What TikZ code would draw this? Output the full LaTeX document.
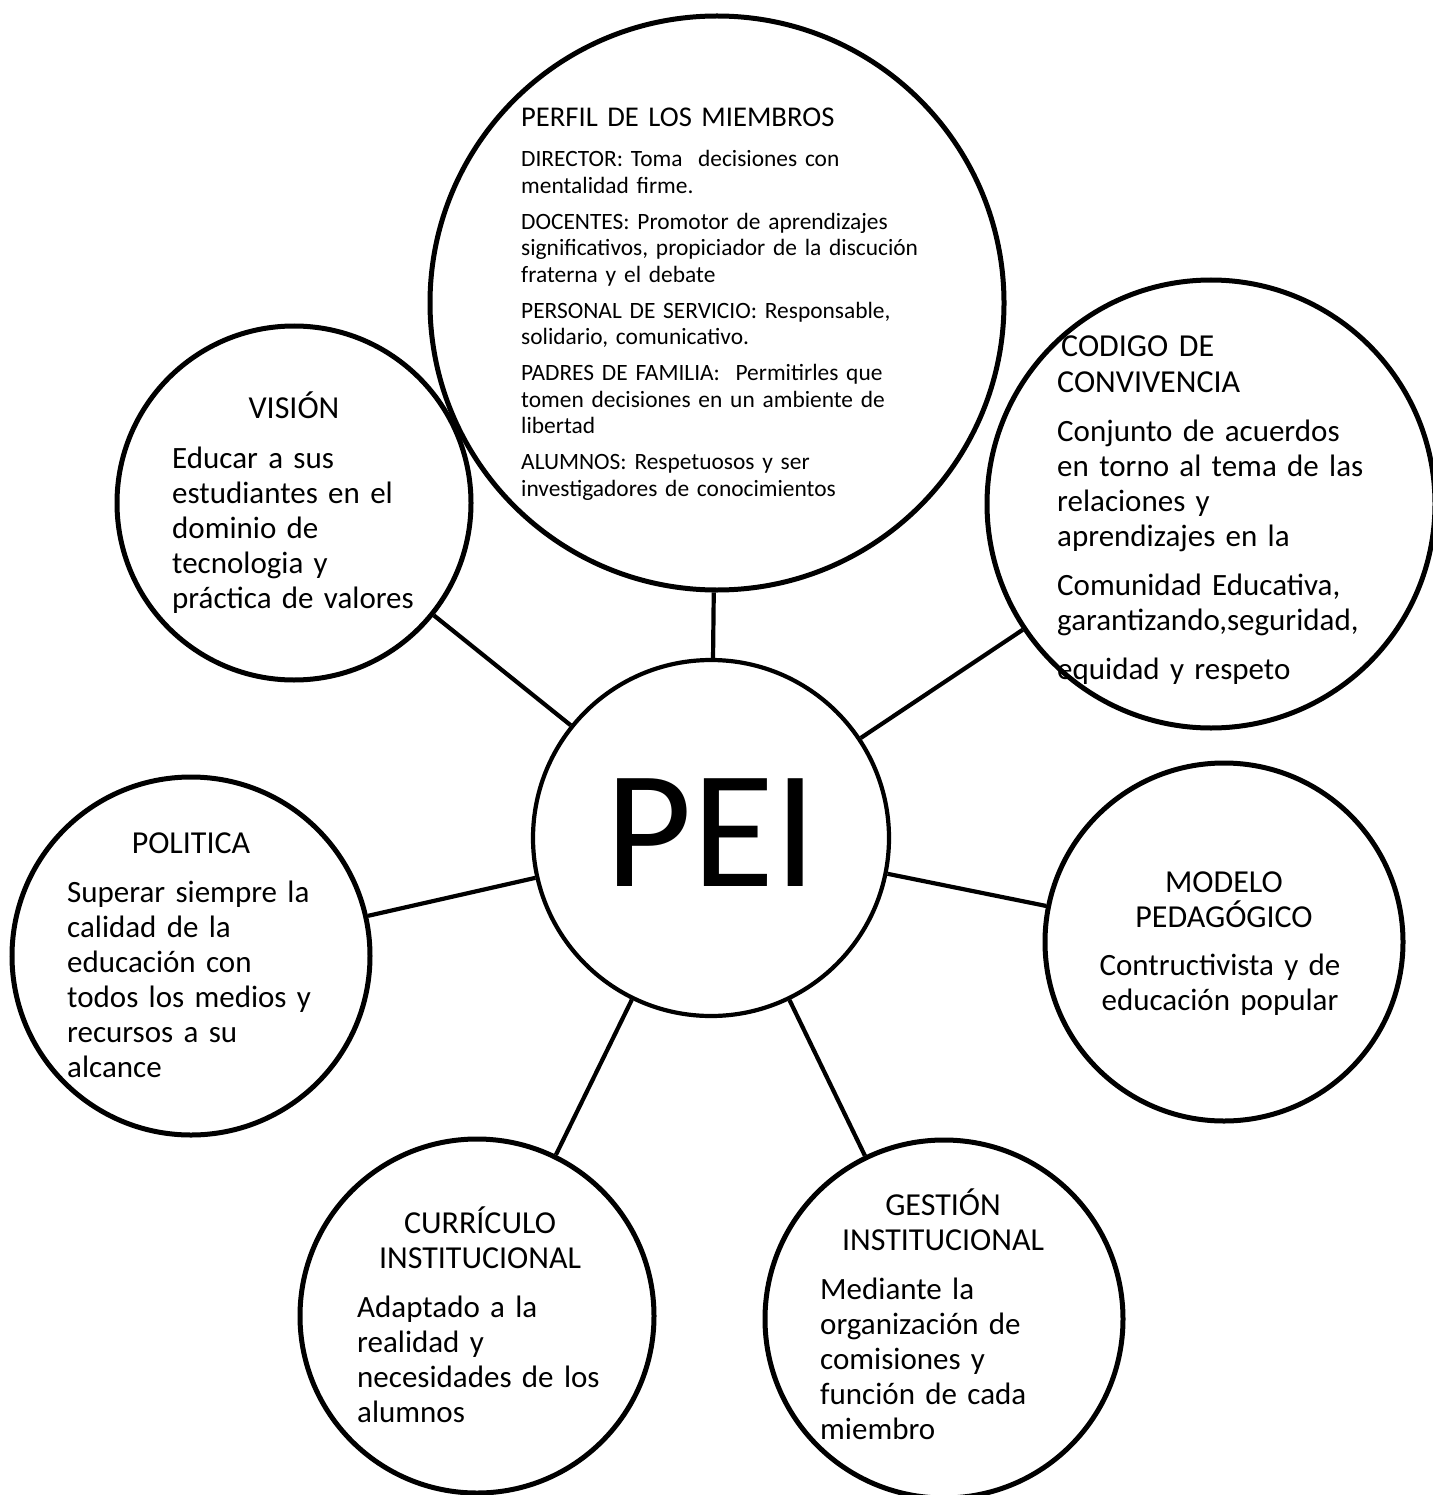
\documentclass[tikz,border=0pt]{standalone}
\usepackage{fontspec}
\setmainfont{Carlito}
\begin{document}
\begin{tikzpicture}[x=1pt,y=-1pt,
  outer/.style={circle,draw=black,line width=5pt,inner sep=0pt,minimum size=#1},
  hub/.style={circle,draw=black,line width=4.2pt,inner sep=0pt,minimum size=356pt},
  link/.style={draw=black,line width=4.2pt},
  bodyL/.style={anchor=base west,inner sep=0pt,text width=460pt,align=left,font=\fontsize{31}{35}\selectfont},
  ttlC/.style={anchor=base,inner sep=0pt,text width=400pt,align=center,font=\fontsize{32}{35}\selectfont},
  bodyC/.style={anchor=base,inner sep=0pt,text width=400pt,align=center,font=\fontsize{31}{35}\selectfont},
  smallL/.style={anchor=base west,inner sep=0pt,text width=460pt,align=left,font=\fontsize{23.4}{26.5}\selectfont},
  perfilttl/.style={anchor=base west,inner sep=0pt,text width=460pt,align=left,font=\fontsize{28.6}{34}\selectfont}
]
\useasboundingbox (0,0) rectangle (1432,1495);
\fill[white] (0,0) rectangle (1432,1495);

% circles
\node[hub] (pei) at (711,838) {};
\node[outer=574pt] (perfil) at (717,303) {};
\node[outer=354pt] (vision) at (294,503) {};
\node[outer=448pt] (codigo) at (1211,504) {};
\node[outer=358pt] (politica) at (191,956) {};
\node[outer=358pt] (modelo) at (1224,942) {};
\node[outer=354pt] (curriculo) at (477,1316) {};
\node[outer=358pt] (gestion) at (944,1319) {};

% connectors
\draw[link] (pei) -- (perfil);
\draw[link] (pei) -- (vision);
\draw[link] (pei) -- (codigo);
\draw[link] (pei) -- (politica);
\draw[link] (pei) -- (modelo);
\draw[link] (pei) -- (curriculo);
\draw[link] (pei) -- (gestion);

% PEI
\node[anchor=base,inner sep=0pt,font=\fontsize{168}{168}\selectfont] (peitxt) at (711.5,886) {PEI};

% PERFIL
\node[perfilttl] (perfilttl) at (521,127) {PERFIL DE LOS MIEMBROS};
\node[smallL] (perfilbody) at (521,167) {DIRECTOR: Toma\ \ decisiones con\\
mentalidad firme.\\[9.5pt]
DOCENTES: Promotor de aprendizajes\\
significativos, propiciador de la discución\\
fraterna y el debate\\[9.5pt]
PERSONAL DE SERVICIO: Responsable,\\
solidario, comunicativo.\\[9.5pt]
PADRES DE FAMILIA:\ \ Permitirles que\\
tomen decisiones en un ambiente de\\
libertad\\[9.5pt]
ALUMNOS: Respetuosos y ser\\
investigadores de conocimientos};

% VISION
\node[ttlC] (visionttl) at (294,418) {VISIÓN};
\node[bodyL] (visionbody) at (172,468) {Educar a sus\\
estudiantes en el\\
dominio de\\
tecnologia y\\
práctica de valores};

% CODIGO
\node[anchor=base west,inner sep=0pt,text width=460pt,align=left,font=\fontsize{32}{36}\selectfont] (codigottl) at (1057,356) {\hspace{4pt}CODIGO DE\\CONVIVENCIA};
\node[bodyL] (codigobody) at (1057,441) {Conjunto de acuerdos\\
en torno al tema de las\\
relaciones y\\
aprendizajes en la\\[14pt]
Comunidad Educativa,\\
garantizando,seguridad,\\[14pt]
equidad y respeto};

% POLITICA
\node[ttlC] (politicattl) at (191,853) {POLITICA};
\node[bodyL] (politicabody) at (67,902) {Superar siempre la\\
calidad de la\\
educación con\\
todos los medios y\\
recursos a su\\
alcance};

% MODELO
\node[ttlC] (modelottl) at (1224,892) {MODELO\\PEDAGÓGICO};
\node[bodyC] (modelobody) at (1220,975) {Contructivista y de\\educación popular};

% CURRICULO
\node[ttlC] (curriculottl) at (480,1233) {CURRÍCULO\\INSTITUCIONAL};
\node[bodyL] (curriculobody) at (357,1317) {Adaptado a la\\
realidad y\\
necesidades de los\\
alumnos};

% GESTION
\node[ttlC] (gestionttl) at (943,1215) {GESTIÓN\\INSTITUCIONAL};
\node[bodyL] (gestionbody) at (820,1299) {Mediante la\\
organización de\\
comisiones y\\
función de cada\\
miembro};
\end{tikzpicture}
\end{document}
